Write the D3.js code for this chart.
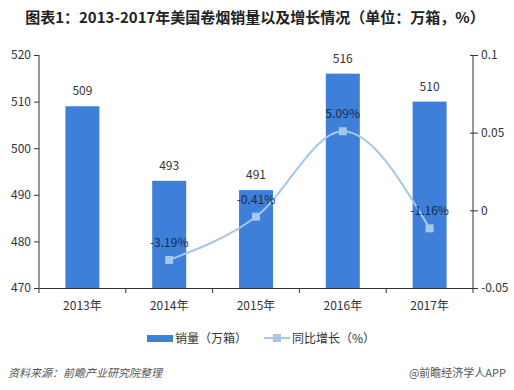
<!DOCTYPE html>
<html>
<head>
<meta charset="utf-8">
<script src="https://cdn.jsdelivr.net/npm/d3@7"></script>
<style>
  body { margin: 0; background: #fff; }
  text { font-family: "Microsoft YaHei", "Noto Sans CJK SC", sans-serif; }
</style>
</head>
<body>
<div id="plot"></div>
<script>
// chart data
const years = ["2013年", "2014年", "2015年", "2016年", "2017年"];
const sales = [509, 493, 491, 516, 510];
const growthYears = ["2014年", "2015年", "2016年", "2017年"];
const growth = [-0.0319, -0.0041, 0.0509, -0.0116];
const growthLabels = ["-3.19%", "-0.41%", "5.09%", "-1.16%"];
const leftTicks = [470, 480, 490, 500, 510, 520];
const rightTicks = [-0.05, 0, 0.05, 0.1];

const width = 514;
const height = 390;
const plotLeft = 39, plotRight = 473, plotTop = 55, plotBottom = 288;
const barColor = "#3d7fd9";
const lineColor = "#a6c6ea";

const svg = d3.select("div#plot")
  .append("svg")
  .attr("width", width)
  .attr("height", height);

svg.append("text")
  .attr("x", 255)
  .attr("y", 23)
  .attr("text-anchor", "middle")
  .style("font-size", "15px")
  .style("font-weight", "bold")
  .attr("fill", "#222")
  .text("图表1：2013-2017年美国卷烟销量以及增长情况（单位：万箱，%）");

const x = d3.scaleBand()
  .domain(years)
  .range([plotLeft, plotRight]);

const yL = d3.scaleLinear().domain([470, 520]).range([plotBottom, plotTop]);
const yR = d3.scaleLinear().domain([-0.05, 0.1]).range([plotBottom, plotTop]);

// bars
svg.selectAll(".bar")
  .data(sales)
  .enter().append("rect")
  .attr("class", "bar")
  .attr("x", (d, i) => x(years[i]) + x.bandwidth() / 2 - 17)
  .attr("width", 34)
  .attr("y", d => yL(d))
  .attr("height", d => plotBottom - yL(d))
  .attr("fill", barColor);

svg.selectAll(".barlabel")
  .data(sales)
  .enter().append("text")
  .attr("class", "barlabel")
  .attr("x", (d, i) => x(years[i]) + x.bandwidth() / 2)
  .attr("y", d => yL(d) - 11)
  .attr("text-anchor", "middle")
  .style("font-size", "12px")
  .attr("fill", "#333")
  .text(d => d);

// left axis
const axL = svg.append("g")
  .attr("transform", `translate(${plotLeft},0)`)
  .call(d3.axisLeft(yL).tickValues(leftTicks).tickSize(5).tickFormat(d3.format("d")));

// right axis
const axR = svg.append("g")
  .attr("transform", `translate(${plotRight},0)`)
  .call(d3.axisRight(yR).tickValues(rightTicks).tickSize(5).tickFormat(d => d === 0 ? "0" : String(d)));
axR.selectAll(".tick line").attr("x1", -3);

// bottom axis
const axB = svg.append("g")
  .attr("transform", `translate(0,${plotBottom})`)
  .call(d3.axisBottom(x).tickSize(0).tickPadding(13));
svg.selectAll(".sep")
  .data(d3.range(years.length + 1))
  .enter().append("line")
  .attr("x1", i => plotLeft + i * x.step())
  .attr("x2", i => plotLeft + i * x.step())
  .attr("y1", plotBottom)
  .attr("y2", plotBottom + 5)
  .attr("stroke", "#333");

[axL, axR, axB].forEach(a => {
  a.select(".domain").attr("stroke", "#333");
  a.selectAll(".tick line").attr("stroke", "#333");
  a.selectAll("text").style("font-size", "12px").attr("fill", "#333")
    .style("font-family", "'Noto Sans CJK SC', sans-serif");
});
axL.select(".domain").attr("d", `M0,${plotTop}V${plotBottom}`);
axR.select(".domain").attr("d", `M0,${plotTop}V${plotBottom}`);

// growth line
const px = d => x(d) + x.bandwidth() / 2;
const line = d3.line()
  .x((d, i) => px(growthYears[i]))
  .y(d => yR(d))
  .curve(d3.curveMonotoneX);

svg.append("path")
  .datum(growth)
  .attr("d", line)
  .attr("fill", "none")
  .attr("stroke", lineColor)
  .attr("stroke-width", 2);

svg.selectAll(".pt")
  .data(growth)
  .enter().append("rect")
  .attr("class", "pt")
  .attr("x", (d, i) => px(growthYears[i]) - 4)
  .attr("y", d => yR(d) - 4)
  .attr("width", 8)
  .attr("height", 8)
  .attr("fill", lineColor);

svg.selectAll(".ptlabel")
  .data(growth)
  .enter().append("text")
  .attr("class", "ptlabel")
  .attr("x", (d, i) => px(growthYears[i]))
  .attr("y", d => yR(d) - 13)
  .attr("text-anchor", "middle")
  .style("font-size", "12px")
  .attr("fill", "#1c2a4a")
  .text((d, i) => growthLabels[i]);

// legend
const lg = svg.append("g").attr("transform", "translate(0,338)");
lg.append("rect").attr("x", 147).attr("y", -3).attr("width", 26).attr("height", 7).attr("fill", barColor);
lg.append("text").attr("x", 175).attr("y", 5).style("font-size", "12px").attr("fill", "#333").text("销量（万箱）");
lg.append("line").attr("x1", 264).attr("x2", 290).attr("y1", 0).attr("y2", 0)
  .attr("stroke", lineColor).attr("stroke-width", 2);
lg.append("rect").attr("x", 273).attr("y", -4).attr("width", 8).attr("height", 8).attr("fill", lineColor);
lg.append("text").attr("x", 292).attr("y", 5).style("font-size", "12px").attr("fill", "#333").text("同比增长（%）");

// footer
svg.append("text")
  .attr("x", 8).attr("y", 377)
  .style("font-size", "11px").style("font-style", "italic")
  .attr("fill", "#555")
  .text("资料来源：前瞻产业研究院整理");
svg.append("text")
  .attr("x", 506).attr("y", 377)
  .attr("text-anchor", "end")
  .style("font-size", "11px")
  .attr("fill", "#555")
  .text("@前瞻经济学人APP");
</script>
</body>
</html>
